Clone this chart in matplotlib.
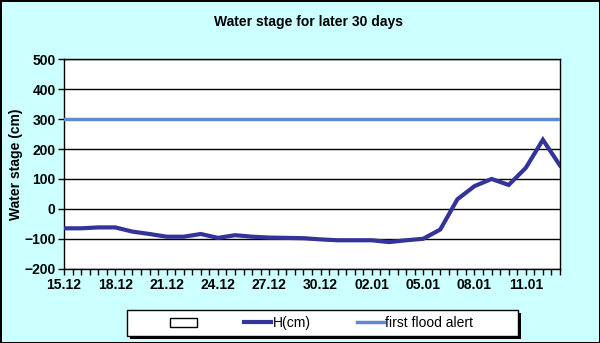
import matplotlib.pyplot as plt
from matplotlib.patches import Patch, Rectangle
from matplotlib.lines import Line2D
import numpy as np

# daily water stage, 15.12 .. 13.01
dates = ["15.12", "16.12", "17.12", "18.12", "19.12", "20.12", "21.12", "22.12",
         "23.12", "24.12", "25.12", "26.12", "27.12", "28.12", "29.12", "30.12",
         "31.12", "01.01", "02.01", "03.01", "04.01", "05.01", "06.01", "07.01",
         "08.01", "09.01", "10.01", "11.01", "12.01", "13.01"]
h_cm = [-65, -65, -62, -62, -76, -84, -93, -93, -84, -97, -88, -93, -96, -97,
        -98, -102, -105, -105, -105, -111, -105, -100, -69, 32, 76, 100, 80,
        137, 231, 145]
flood_alert = 300

plt.rcParams['font.family'] = ['Liberation Sans', 'DejaVu Sans']
plt.rcParams['font.weight'] = 'bold'

bg = '#CCFFFF'
W, H = 600, 343
fig = plt.figure(figsize=(6, 3.43), dpi=100, facecolor=bg,
                 edgecolor='black', linewidth=2)
ax = fig.add_axes([64 / W, 1 - 268.7 / H, 496 / W, 209.4 / H])

x = np.arange(len(dates))
ax.plot(x, h_cm, color='#333399', lw=3, solid_joinstyle='miter', zorder=3)
ax.axhline(flood_alert, color='#5B8BD0', lw=2.5, zorder=3)

ax.set_xlim(0, len(dates) - 1)
ax.set_ylim(-200, 500)
ax.set_yticks(np.arange(-200, 501, 100))
ax.set_xticks(x[::3])
ax.set_xticklabels(dates[::3])
ax.set_xticks(np.arange(0, len(dates) - 0.9, 0.5), minor=True)
ax.grid(axis='y', color='black', lw=1)
ax.set_axisbelow(True)
ax.tick_params(axis='both', which='both', direction='out', color='black',
               labelsize=10, width=1)
ax.tick_params(axis='x', which='major', length=4, pad=3)
ax.tick_params(axis='x', which='minor', length=4)
ax.tick_params(axis='y', length=4, pad=2)
for s in ax.spines.values():
    s.set_color('black')
    s.set_linewidth(1)

ax.set_ylabel("Water stage (cm)", fontsize=10, fontweight='bold', labelpad=1)
fig.text(308 / W, 1 - 22 / H, "Water stage for later 30 days",
         ha='center', va='center', fontsize=10, fontweight='bold')

# legend box with black drop shadow
fig.patches.append(Rectangle(((127 + 3) / W, 1 - (336 + 3) / H), 391 / W, 26 / H,
                             transform=fig.transFigure, facecolor='black',
                             edgecolor='none', zorder=1))
fig.patches.append(Rectangle((127 / W, 1 - 336 / H), 391 / W, 26 / H,
                             transform=fig.transFigure, facecolor='white',
                             edgecolor='black', lw=1, zorder=2))

handles = [Patch(facecolor='white', edgecolor='black', lw=1),
           Line2D([], [], color='#333399', lw=3),
           Line2D([], [], color='#5B8BD0', lw=2.5)]
labels = ["", "H(cm)", "first flood alert"]
leg = fig.legend(handles, labels, ncol=3, loc='center left',
                 bbox_to_anchor=(170 / W, 1 - 323 / H),
                 prop={'size': 10, 'weight': 'normal'}, frameon=False,
                 handlelength=1.95, handleheight=0.6, handletextpad=0.1,
                 columnspacing=3.3, borderpad=0, borderaxespad=0)
leg.set_zorder(3)

fig.savefig("out.png", dpi=100, facecolor=bg, edgecolor='black')
